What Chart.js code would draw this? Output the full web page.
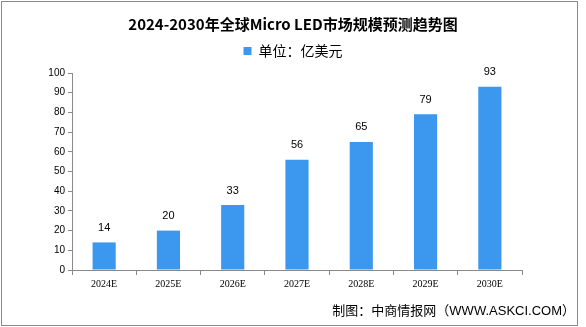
<!DOCTYPE html>
<html><head><meta charset="utf-8">
<script src="https://cdn.jsdelivr.net/npm/chart.js@4/dist/chart.umd.min.js"></script>
<style>
html,body{margin:0;padding:0;background:#fff}
#wrap{position:relative;width:586px;height:327px}
#frame{position:absolute;left:1px;top:1px;width:575px;height:323px;border:1px solid #8a8a8a;pointer-events:none}
canvas{display:block}
</style></head><body>
<div id="wrap"><canvas id="c" width="586" height="327"></canvas><div id="frame"></div></div>
<script>
const titleText = '2024-2030年全球Micro LED市场规模预测趋势图';
const seriesName = '单位：亿美元';
const creditText = '制图：中商情报网（WWW.ASKCI.COM）';
const categories = ['2024E', '2025E', '2026E', '2027E', '2028E', '2029E', '2030E'];
const values = [14, 20, 33, 56, 65, 79, 93];
const yMin = 0;
const yMax = 100;
const yStep = 10;

const barColor = '#3c97ef';
const axisColor = '#8a8a8a';

const valueLabels = {
  id: 'valueLabels',
  afterDatasetsDraw(chart) {
    const ctx = chart.ctx;
    const meta = chart.getDatasetMeta(0);
    ctx.save();
    ctx.font = '11px "Liberation Sans", Arial, sans-serif';
    ctx.fillStyle = '#000';
    ctx.textAlign = 'center';
    ctx.textBaseline = 'middle';
    meta.data.forEach((bar, i) => {
      ctx.fillText(String(values[i]), bar.x, bar.y - 14.5);
    });
    ctx.restore();
  }
};

const credit = {
  id: 'credit',
  afterDraw(chart) {
    const ctx = chart.ctx;
    ctx.save();
    ctx.font = '13px "Liberation Sans", "Noto Sans CJK SC", sans-serif';
    ctx.fillStyle = '#000';
    ctx.textAlign = 'right';
    ctx.textBaseline = 'middle';
    ctx.fillText(creditText, 575, 311);
    ctx.restore();
  }
};

new Chart(document.getElementById('c'), {
  type: 'bar',
  data: {
    labels: categories,
    datasets: [{
      label: seriesName,
      data: values,
      backgroundColor: barColor,
      borderWidth: 0,
      barPercentage: 0.36,
      categoryPercentage: 1.0
    }]
  },
  options: {
    responsive: false,
    animation: false,
    devicePixelRatio: 1,
    layout: { padding: { top: 15, left: 0, right: 0, bottom: 0 } },
    plugins: {
      title: {
        display: true,
        text: titleText,
        color: '#000',
        font: { family: '"Noto Sans CJK SC", sans-serif', size: 15, weight: 'bold' },
        padding: { top: 0, bottom: 0 }
      },
      legend: {
        display: true,
        labels: {
          boxWidth: 8,
          boxHeight: 8,
          color: '#000',
          padding: 11,
          font: { family: '"Noto Sans CJK SC", sans-serif', size: 14 }
        }
      },
      tooltip: { enabled: false }
    },
    scales: {
      x: {
        grid: { display: true, drawOnChartArea: false, drawTicks: true, tickLength: 5, color: axisColor, offset: true },
        border: { color: axisColor },
        ticks: { color: '#000', padding: 3, font: { family: '"Liberation Serif", serif', size: 10 } },
        afterFit(s) { s.height = 57; }
      },
      xTop: {
        type: 'category',
        position: 'top',
        display: true,
        grid: { display: false },
        border: { display: false },
        ticks: { display: false },
        afterFit(s) { s.height = 5; }
      },
      y: {
        min: yMin,
        max: yMax,
        ticks: { stepSize: yStep, color: '#000', padding: 3, font: { family: '"Liberation Sans", Arial, sans-serif', size: 10 } },
        grid: { drawOnChartArea: false, drawTicks: true, tickLength: 4, color: axisColor },
        border: { color: axisColor },
        afterFit(s) { s.width = 72; }
      },
      y2: {
        type: 'linear',
        position: 'right',
        display: true,
        grid: { display: false },
        border: { display: false },
        ticks: { display: false },
        afterFit(s) { s.width = 64; }
      }
    }
  },
  plugins: [valueLabels, credit]
});
</script>
</body></html>
